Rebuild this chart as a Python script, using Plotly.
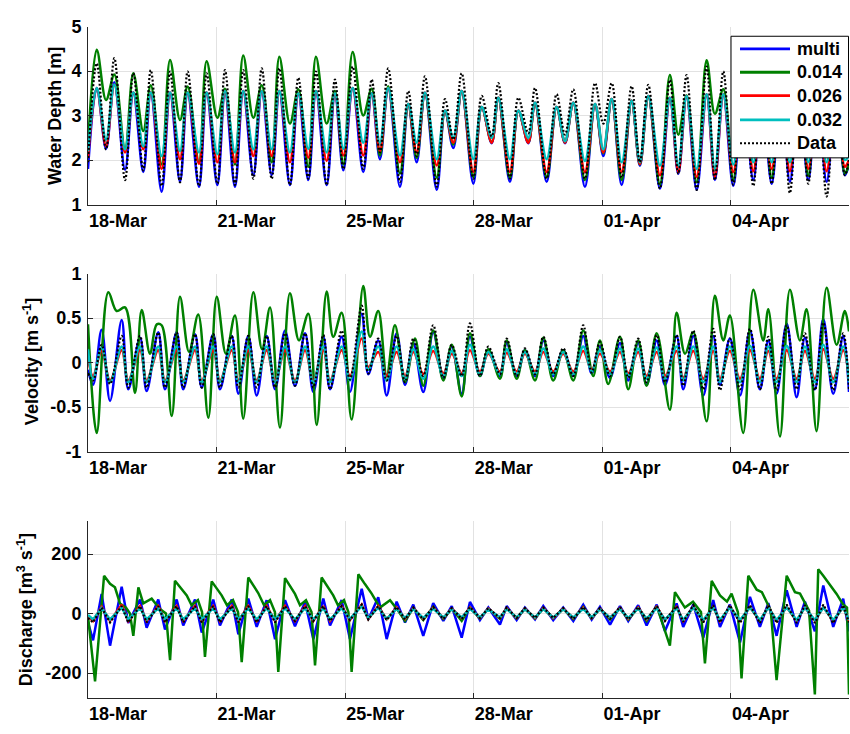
import pandas as pd
import plotly.graph_objects as go
from plotly.subplots import make_subplots

START = pd.Timestamp("2013-03-18 00:00")
END_HOURS = 497.1

# ---------------- water depth [m] (turning points, hours after 18-Mar 00:00)
depth_hours = [0.0, 5.7, 11.8, 17.2, 24.2, 29.6, 36.1, 41.0, 48.1, 53.6, 60.1, 65.1, 72.5, 77.5,
               84.5, 89.5, 96.0, 101.4, 108.0, 113.5, 120.0, 125.0, 131.9, 137.4, 143.9, 148.9,
               155.9, 161.3, 166.8, 172.9, 179.8, 185.3, 190.7, 196.1, 203.8, 209.2, 214.7, 220.1,
               227.8, 233.2, 238.6, 244.1, 251.7, 257.2, 263.7, 268.0, 275.6, 281.1, 287.6, 292.0,
               299.6, 306.1, 311.6, 317.0, 324.6, 331.2, 336.6, 342.1, 348.6, 355.1, 360.5, 366.0,
               373.6, 380.1, 385.6, 391.0, 397.6, 404.1, 409.5, 415.0, 421.5, 427.8, 434.6, 440.2,
               446.6, 452.6, 458.5, 464.4, 470.5, 476.2, 482.5, 488.6, 494.4, 497.1]
depth_data = [1.95, 4.17, 2.24, 4.29, 1.55, 3.95, 1.77, 4.02, 1.42, 3.99,
              1.50, 3.99, 1.42, 3.95, 1.47, 4.02, 1.44, 4.02, 1.58, 4.06,
              1.58, 4.06, 1.44, 3.85, 1.58, 3.99, 1.44, 3.81, 1.80, 4.10,
              1.80, 3.81, 2.17, 4.06, 1.51, 3.55, 2.09, 3.88, 1.40, 3.37,
              2.46, 3.95, 1.58, 3.44, 2.53, 3.73, 1.58, 3.40, 2.60, 3.62,
              1.58, 3.48, 2.57, 3.59, 1.58, 3.73, 2.82, 3.73, 1.60, 3.66,
              1.95, 3.69, 1.36, 3.80, 1.69, 3.91, 1.33, 4.10, 1.55, 3.99,
              1.45, 4.00, 1.42, 3.90, 1.47, 4.00, 1.26, 3.90, 1.47, 4.00,
              1.18, 3.80, 1.66, 2.00]
depth_multi = [1.80, 3.62, 2.25, 3.75, 1.78, 3.52, 1.73, 3.52, 1.29, 3.52,
               1.51, 3.52, 1.40, 3.52, 1.44, 3.55, 1.40, 3.55, 1.66, 3.55,
               1.66, 3.55, 1.44, 3.50, 1.55, 3.55, 1.44, 3.50, 1.77, 3.62,
               1.73, 3.50, 2.02, 3.62, 1.40, 3.26, 1.95, 3.51, 1.33, 3.11,
               2.27, 3.55, 1.47, 3.19, 2.38, 3.40, 1.51, 3.11, 2.38, 3.29,
               1.51, 3.19, 2.38, 3.29, 1.40, 3.26, 2.09, 3.37, 1.44, 3.33,
               1.87, 3.44, 1.36, 3.40, 1.69, 3.44, 1.33, 3.48, 1.55, 3.48,
               1.42, 3.50, 1.55, 3.50, 1.47, 3.50, 1.51, 3.50, 1.55, 3.50,
               1.51, 3.50, 1.66, 1.90]
depth_n014 = [2.30, 4.48, 3.35, 3.92, 2.24, 3.95, 2.65, 3.68, 1.90, 4.25,
              2.90, 3.65, 1.95, 4.22, 2.95, 3.60, 1.90, 4.35, 2.95, 3.68,
              1.95, 4.32, 2.82, 3.59, 1.85, 4.32, 2.82, 3.55, 1.90, 4.43,
              3.00, 3.60, 2.10, 3.66, 1.70, 3.26, 2.05, 3.51, 1.60, 3.11,
              2.35, 3.55, 1.62, 3.19, 2.40, 3.40, 1.60, 3.11, 2.40, 3.29,
              1.62, 3.19, 2.40, 3.29, 1.55, 3.26, 2.15, 3.37, 1.55, 3.33,
              1.90, 3.44, 1.45, 3.91, 2.57, 3.45, 1.50, 4.24, 3.04, 3.59,
              1.55, 4.25, 3.00, 3.60, 1.60, 4.25, 3.00, 3.60, 1.65, 4.25,
              3.00, 3.60, 1.70, 1.90]
depth_n026 = [2.05, 3.62, 2.31, 3.70, 2.17, 3.52, 2.24, 3.52, 1.80, 3.52,
              2.02, 3.52, 1.91, 3.52, 1.95, 3.55, 1.95, 3.55, 2.09, 3.55,
              2.09, 3.55, 1.95, 3.50, 2.05, 3.55, 1.98, 3.50, 2.10, 3.62,
              2.10, 3.50, 2.20, 3.62, 1.95, 3.26, 2.17, 3.51, 1.88, 3.11,
              2.39, 3.55, 1.73, 3.19, 2.39, 3.40, 1.73, 3.11, 2.39, 3.29,
              1.73, 3.19, 2.39, 3.29, 1.73, 3.26, 2.17, 3.37, 1.73, 3.33,
              1.91, 3.44, 1.66, 3.40, 1.73, 3.44, 1.62, 3.48, 1.62, 3.48,
              1.73, 3.50, 1.75, 3.50, 1.80, 3.50, 1.75, 3.50, 1.80, 3.50,
              1.75, 3.50, 1.85, 2.00]
depth_n032 = [2.20, 3.62, 2.46, 3.70, 2.24, 3.52, 2.31, 3.52, 2.09, 3.52,
              2.20, 3.52, 2.17, 3.52, 2.13, 3.55, 2.17, 3.55, 2.24, 3.55,
              2.24, 3.55, 2.17, 3.50, 2.25, 3.55, 2.17, 3.50, 2.25, 3.62,
              2.39, 3.50, 2.39, 3.62, 2.10, 3.26, 2.39, 3.51, 2.02, 3.11,
              2.50, 3.55, 2.02, 3.19, 2.50, 3.40, 2.02, 3.11, 2.50, 3.29,
              2.02, 3.19, 2.42, 3.29, 1.98, 3.26, 2.24, 3.37, 1.95, 3.33,
              1.95, 3.44, 1.87, 3.40, 1.87, 3.44, 1.80, 3.48, 1.80, 3.48,
              1.90, 3.50, 1.95, 3.50, 1.95, 3.50, 1.95, 3.50, 1.95, 3.50,
              1.95, 3.50, 2.00, 2.10]

# ---------------- velocity [m/s] and discharge [m3/s] share these turning times
flow_hours = [0.0, 3.3, 8.9, 14.4, 22.0, 26.3, 34.0, 38.3, 45.9, 50.3, 57.9, 62.2, 69.9, 74.3,
              81.8, 86.2, 93.9, 98.2, 104.7, 110.2, 116.7, 122.2, 128.7, 135.2, 141.8, 147.2,
              153.7, 158.1, 165.7, 171.1, 178.8, 183.1, 189.6, 195.1, 201.6, 207.1, 212.5, 219.0,
              225.5, 232.1, 237.6, 244.1, 249.5, 256.0, 261.5, 269.1, 273.5, 280.0, 285.4, 292.0,
              297.4, 303.9, 310.4, 317.0, 323.5, 329.0, 334.4, 341.0, 347.5, 352.9, 359.4, 364.9,
              371.5, 376.9, 384.5, 388.8, 395.4, 401.9, 408.4, 412.8, 419.3, 425.9, 432.4, 438.9,
              444.4, 449.8, 456.4, 462.9, 468.3, 474.8, 480.3, 486.8, 493.3, 497.1]
vel_data = [-0.12, -0.20, 0.20, -0.24, 0.30, -0.28, 0.30, -0.28, 0.34, -0.28,
            0.34, -0.28, 0.32, -0.28, 0.32, -0.28, 0.30, -0.28, 0.30, -0.28,
            0.30, -0.28, 0.33, -0.26, 0.33, -0.28, 0.31, -0.30, 0.36, -0.19,
            0.64, -0.12, 0.27, -0.20, 0.30, -0.22, 0.27, -0.15, 0.42, -0.17,
            0.20, -0.15, 0.44, -0.15, 0.18, -0.13, 0.27, -0.15, 0.16, -0.13,
            0.29, -0.13, 0.16, -0.15, 0.42, -0.11, 0.23, -0.15, 0.29, -0.17,
            0.27, -0.22, 0.31, -0.22, 0.31, -0.26, 0.36, -0.30, 0.38, -0.31,
            0.27, -0.30, 0.38, -0.30, 0.29, -0.31, 0.42, -0.30, 0.33, -0.31,
            0.45, -0.31, 0.33, -0.30]
vel_multi = [-0.08, -0.25, 0.37, -0.43, 0.48, -0.30, 0.28, -0.32, 0.34, -0.30,
             0.34, -0.30, 0.32, -0.28, 0.32, -0.30, 0.30, -0.35, 0.30, -0.37,
             0.30, -0.30, 0.36, -0.26, 0.33, -0.33, 0.29, -0.30, 0.29, -0.33,
             0.55, -0.13, 0.25, -0.37, 0.33, -0.25, 0.22, -0.33, 0.34, -0.18,
             0.18, -0.35, 0.29, -0.15, 0.14, -0.15, 0.22, -0.15, 0.14, -0.15,
             0.25, -0.15, 0.14, -0.15, 0.30, -0.12, 0.18, -0.17, 0.22, -0.20,
             0.22, -0.25, 0.25, -0.25, 0.30, -0.30, 0.30, -0.37, 0.30, -0.25,
             0.27, -0.37, 0.36, -0.30, 0.25, -0.35, 0.44, -0.39, 0.28, -0.30,
             0.49, -0.35, 0.30, -0.33]
vel_n026 = [0.05, -0.15, 0.13, -0.20, 0.14, -0.20, 0.14, -0.20, 0.14, -0.20,
            0.14, -0.20, 0.14, -0.20, 0.14, -0.20, 0.14, -0.20, 0.14, -0.20,
            0.14, -0.20, 0.14, -0.20, 0.14, -0.20, 0.14, -0.20, 0.14, -0.15,
            0.27, -0.05, 0.12, -0.15, 0.12, -0.15, 0.12, -0.13, 0.13, -0.12,
            0.10, -0.12, 0.14, -0.10, 0.10, -0.10, 0.11, -0.10, 0.10, -0.10,
            0.12, -0.10, 0.10, -0.10, 0.13, -0.08, 0.10, -0.10, 0.12, -0.12,
            0.12, -0.15, 0.12, -0.15, 0.13, -0.17, 0.13, -0.18, 0.13, -0.18,
            0.13, -0.18, 0.14, -0.18, 0.13, -0.18, 0.14, -0.18, 0.13, -0.18,
            0.15, -0.18, 0.14, -0.18]
vel_n032 = [0.15, -0.18, 0.17, -0.22, 0.18, -0.22, 0.18, -0.22, 0.18, -0.22,
            0.18, -0.22, 0.18, -0.22, 0.18, -0.22, 0.18, -0.22, 0.18, -0.22,
            0.18, -0.22, 0.18, -0.22, 0.18, -0.22, 0.18, -0.22, 0.18, -0.20,
            0.35, -0.08, 0.18, -0.20, 0.18, -0.18, 0.15, -0.18, 0.18, -0.15,
            0.13, -0.15, 0.20, -0.13, 0.12, -0.13, 0.15, -0.13, 0.12, -0.13,
            0.16, -0.13, 0.12, -0.13, 0.18, -0.10, 0.14, -0.13, 0.16, -0.15,
            0.16, -0.18, 0.17, -0.18, 0.18, -0.20, 0.18, -0.22, 0.18, -0.22,
            0.18, -0.22, 0.19, -0.22, 0.18, -0.22, 0.19, -0.22, 0.18, -0.22,
            0.20, -0.22, 0.18, -0.22]
vel_n014_hours = [0.0, 5.7, 13.3, 18.7, 24.2, 30.7, 35.1, 40.5, 44.9, 48.1, 54.7, 60.1, 66.0,
                  72.0, 78.6, 84.1, 90.1, 96.0, 101.4, 108.0, 113.7, 118.9, 125.4, 131.9, 137.8,
                  143.9, 149.4, 155.9, 160.2, 165.7, 172.2, 179.8, 184.2, 189.6, 195.1, 200.5,
                  207.1, 213.6, 219.0, 225.5, 232.1, 237.6, 244.1, 249.5, 256.0, 261.5, 269.1,
                  273.5, 280.0, 285.4, 292.0, 297.4, 303.9, 310.4, 317.0, 323.5, 330.0, 334.4,
                  339.8, 347.5, 352.9, 359.4, 364.9, 371.5, 380.1, 384.5, 390.0, 395.4, 404.1,
                  409.5, 415.0, 419.3, 428.0, 434.6, 441.1, 444.4, 452.0, 458.5, 465.0, 469.4,
                  475.9, 482.5, 489.0, 494.4, 497.1]
vel_n014 = [0.43, -0.79, 0.79, 0.58, 0.62, -0.34, 0.59, 0.10, 0.43, 0.42,
            -0.60, 0.74, 0.12, 0.54, -0.62, 0.74, 0.10, 0.53, -0.63, 0.79,
            0.15, 0.62, -0.73, 0.78, 0.25, 0.55, -0.70, 0.80, 0.29, 0.56,
            -0.64, 0.86, 0.29, 0.58, -0.15, 0.42, -0.22, 0.27, -0.26, 0.36,
            -0.20, 0.20, -0.38, 0.33, -0.15, 0.15, -0.18, 0.25, -0.18, 0.14,
            -0.20, 0.28, -0.20, 0.14, -0.20, 0.36, -0.15, 0.25, -0.24, 0.29,
            -0.30, 0.25, -0.26, 0.33, -0.53, 0.56, 0.10, 0.34, -0.66, 0.75,
            0.25, 0.53, -0.79, 0.82, 0.25, 0.60, -0.83, 0.82, 0.25, 0.60,
            -0.77, 0.84, 0.20, 0.58, 0.35]

q_data = [-15, -30, 20, -30, 25, -30, 25, -30, 25, -30,
          25, -30, 25, -30, 25, -30, 25, -30, 25, -30,
          25, -30, 25, -25, 25, -25, 25, -25, 25, -22,
          30, -20, 25, -22, 22, -20, 20, -20, 22, -18,
          18, -18, 22, -15, 18, -15, 20, -15, 18, -15,
          20, -15, 18, -18, 22, -15, 18, -18, 22, -20,
          22, -22, 25, -25, 25, -28, 28, -30, 28, -30,
          28, -32, 28, -32, 28, -32, 30, -32, 28, -32,
          30, -32, 28, -30]
q_multi = [-30, -90, 66, -108, 90, -32, 47, -48, 47, -54,
           47, -40, 47, -64, 47, -40, 47, -70, 50, -45,
           45, -86, 45, -43, 39, -86, 50, -40, 45, -86,
           83, -20, 55, -86, 40, -30, 30, -75, 35, -25,
           25, -81, 39, -22, 20, -37, 25, -22, 20, -20,
           25, -22, 20, -25, 30, -20, 22, -37, 25, -25,
           28, -40, 30, -59, 34, -45, 30, -81, 45, -45,
           30, -97, 56, -45, 35, -75, 78, -45, 40, -60,
           94, -45, 50, -60]
q_n026 = [-10, -25, 22, -25, 30, -25, 25, -25, 25, -25,
          25, -25, 25, -25, 25, -25, 25, -25, 25, -25,
          25, -25, 25, -25, 25, -25, 25, -25, 25, -22,
          30, -18, 25, -20, 20, -18, 18, -18, 20, -15,
          16, -15, 20, -15, 16, -15, 18, -15, 16, -15,
          18, -15, 16, -15, 20, -15, 16, -15, 18, -18,
          20, -20, 22, -22, 22, -25, 22, -25, 22, -25,
          22, -25, 22, -25, 22, -25, 22, -25, 22, -25,
          22, -25, 22, -25]
q_n032 = [-5, -20, 18, -20, 20, -20, 18, -20, 18, -20,
          18, -20, 18, -20, 18, -20, 18, -20, 18, -20,
          18, -20, 18, -20, 18, -20, 18, -20, 18, -18,
          25, -15, 20, -18, 16, -15, 15, -15, 16, -13,
          14, -13, 16, -13, 14, -13, 15, -13, 14, -13,
          15, -13, 14, -13, 16, -13, 14, -13, 15, -15,
          17, -17, 18, -20, 18, -22, 20, -22, 20, -22,
          20, -22, 20, -22, 20, -22, 20, -22, 20, -22,
          20, -22, 20, -22]
q_n014_hours = [0.0, 4.6, 10.5, 14.4, 17.6, 20.9, 24.8, 27.4, 29.6, 32.9, 36.1, 41.6, 47.0,
                50.9, 53.6, 56.8, 64.5, 67.7, 71.8, 74.5, 76.4, 80.8, 87.3, 90.8, 94.7, 98.0,
                100.4, 104.7, 111.2, 115.0, 118.9, 122.1, 124.3, 128.7, 135.2, 138.5, 142.4,
                146.0, 148.3, 152.6, 160.2, 163.3, 167.2, 170.1, 172.2, 176.6, 180.9, 185.3,
                190.7, 197.3, 202.5, 207.1, 212.5, 219.0, 225.5, 232.1, 237.6, 244.1, 249.5,
                256.0, 261.5, 269.1, 273.5, 280.0, 285.4, 292.0, 297.4, 303.9, 310.4, 317.0,
                323.5, 329.0, 334.4, 341.0, 347.5, 352.9, 359.4, 364.9, 371.5, 380.1, 383.4,
                389.9, 395.2, 400.4, 403.0, 407.4, 412.8, 417.4, 420.4, 424.5, 426.9, 431.3,
                436.8, 440.2, 446.0, 449.8, 456.4, 461.8, 465.1, 471.0, 474.8, 477.0, 480.3,
                489.0, 493.3, 495.8, 497.1]
q_n014 = [-10, -228, 127, 100, 88, 34, 20, 0, -75, 88,
          34, 50, 15, 0, -157, 110, 61, 28, 45, 5,
          -146, 108, 61, 28, 45, 5, -163, 121, 69, 28,
          45, 5, -196, 119, 66, 28, 45, 5, -174, 121,
          61, 28, 45, 5, -196, 132, 99, 67, 20, 45,
          10, -25, 18, -22, 22, -18, 16, -25, 20, -16,
          16, -18, 18, -16, 16, -16, 18, -16, 16, -18,
          22, -16, 16, -20, 18, -20, 20, -25, 25, -108,
          72, 20, 40, 5, -168, 110, 61, 40, 67, 5,
          -218, 127, 80, 72, 10, -224, 127, 72, 67, 10,
          -272, 149, 127, 66, 30, 20, -272]

tick_hours = [0, 84, 168, 252, 336, 420]
tick_labels = ["18-Mar", "21-Mar", "25-Mar", "28-Mar", "01-Apr", "04-Apr"]

series_names = ["multi", "0.014", "0.026", "0.032", "Data"]
series_colors = ["#0000ff", "#008000", "#ff0000", "#00bfbf", "#000000"]

for xs, ys in [(depth_hours, depth_data), (depth_hours, depth_multi), (depth_hours, depth_n014),
               (depth_hours, depth_n026), (depth_hours, depth_n032), (flow_hours, vel_data),
               (flow_hours, vel_multi), (flow_hours, vel_n026), (flow_hours, vel_n032),
               (vel_n014_hours, vel_n014), (flow_hours, q_data), (flow_hours, q_multi),
               (flow_hours, q_n026), (flow_hours, q_n032), (q_n014_hours, q_n014)]:
    assert len(xs) == len(ys), (len(xs), len(ys))


def to_time(hours):
    return START + pd.to_timedelta(hours, unit="h")


W, H = 850, 734
LEFT, RIGHT = 88, 849
FONT = "Liberation Sans, Arial, sans-serif"
AXIS_DARK = "#262626"
GRID = "#e2e2e2"

fig = make_subplots(rows=3, cols=1)

panels = [
    (1, "spline", [(depth_hours, depth_multi), (depth_hours, depth_n014), (depth_hours, depth_n026),
                   (depth_hours, depth_n032), (depth_hours, depth_data)]),
    (2, "spline", [(flow_hours, vel_multi), (vel_n014_hours, vel_n014), (flow_hours, vel_n026),
                   (flow_hours, vel_n032), (flow_hours, vel_data)]),
    (3, "linear", [(flow_hours, q_multi), (q_n014_hours, q_n014), (flow_hours, q_n026),
                   (flow_hours, q_n032), (flow_hours, q_data)]),
]

for row, shape, series in panels:
    for (hours, vals), name, color in zip(series, series_names, series_colors):
        is_data = name == "Data"
        fig.add_trace(
            go.Scatter(
                x=to_time(hours), y=vals, mode="lines", name=name, showlegend=False,
                line=dict(color=color, width=2.2 if is_data else 2.5, shape=shape,
                          dash="2px,2px" if is_data else "solid"),
                hoverinfo="skip",
            ),
            row=row, col=1,
        )

# panel geometry in pixels (top, bottom)
panel_px = {1: (17, 200), 2: (271, 454), 3: (525, 707)}
y_setup = {
    1: dict(range=[1, 5], tickvals=[1, 2, 3, 4, 5], ticktext=["1", "2", "3", "4", "5"]),
    2: dict(range=[-1, 1], tickvals=[-1, -0.5, 0, 0.5, 1], ticktext=["-1", "-0.5", "0", "0.5", "1"]),
    3: dict(range=[-283, 312], tickvals=[-200, 0, 200], ticktext=["-200", "0", "200"]),
}
tick_font = dict(family=FONT, size=18, color="black", weight="bold")

for row in (1, 2, 3):
    top, bot = panel_px[row]
    dom = [1 - bot / H, 1 - top / H]
    fig.update_yaxes(
        row=row, col=1, domain=dom, **y_setup[row],
        showgrid=True, gridcolor=GRID, gridwidth=1, zeroline=False,
        showline=True, linecolor=AXIS_DARK, linewidth=1,
        ticks="inside", ticklen=5, tickcolor=AXIS_DARK, tickfont=tick_font,
        ticklabelstandoff=2,
    )
    fig.update_xaxes(
        row=row, col=1, type="date",
        range=[START, to_time(END_HOURS)],
        tickvals=list(to_time(tick_hours)), ticktext=tick_labels,
        ticklabelposition="outside right",
        showgrid=True, gridcolor=GRID, gridwidth=1, zeroline=False,
        showline=True, linecolor=AXIS_DARK, linewidth=1,
        ticks="inside", ticklen=5, tickcolor=AXIS_DARK, tickfont=tick_font,
    )

plot_w = RIGHT - LEFT


def px_x(px):
    return (px - LEFT) / plot_w


def px_y(py):
    return 1 - py / H


# axis titles
title_font = dict(family=FONT, size=18, color="black", weight="bold")
for text, cx, cy in [("Water Depth [m]", 55, 109),
                     ("Velocity [m s<sup>-1</sup>]", 31, 362),
                     ("Discharge [m<sup>3</sup> s<sup>-1</sup>]", 25, 616)]:
    fig.add_annotation(x=px_x(cx), y=px_y(cy), xref="paper", yref="paper", text=text,
                       textangle=-90, showarrow=False, xanchor="center", yanchor="middle",
                       font=title_font)

# legend box in the depth panel
fig.add_shape(type="rect", xref="paper", yref="paper", x0=px_x(731), x1=px_x(848.5),
              y0=px_y(152), y1=px_y(27), line=dict(color="black", width=1),
              fillcolor="white", layer="above")
row_py = [40, 64, 88, 113, 137]
for name, color, py in zip(series_names, series_colors, row_py):
    is_data = name == "Data"
    fig.add_shape(type="line", xref="paper", yref="paper", x0=px_x(740), x1=px_x(790),
                  y0=px_y(py), y1=px_y(py), layer="above",
                  line=dict(color=color, width=2.2 if is_data else 2.8,
                            dash="2px,2px" if is_data else "solid"))
    fig.add_annotation(x=px_x(795), y=px_y(py), xref="paper", yref="paper", text=name,
                       showarrow=False, xanchor="left", yanchor="middle",
                       font=dict(family=FONT, size=18, color="black", weight="bold"))

fig.update_layout(
    width=W, height=H,
    margin=dict(l=LEFT, r=W - RIGHT, t=0, b=0),
    paper_bgcolor="white", plot_bgcolor="white",
    showlegend=False,
    font=dict(family=FONT),
)

fig.write_html("out.html")
